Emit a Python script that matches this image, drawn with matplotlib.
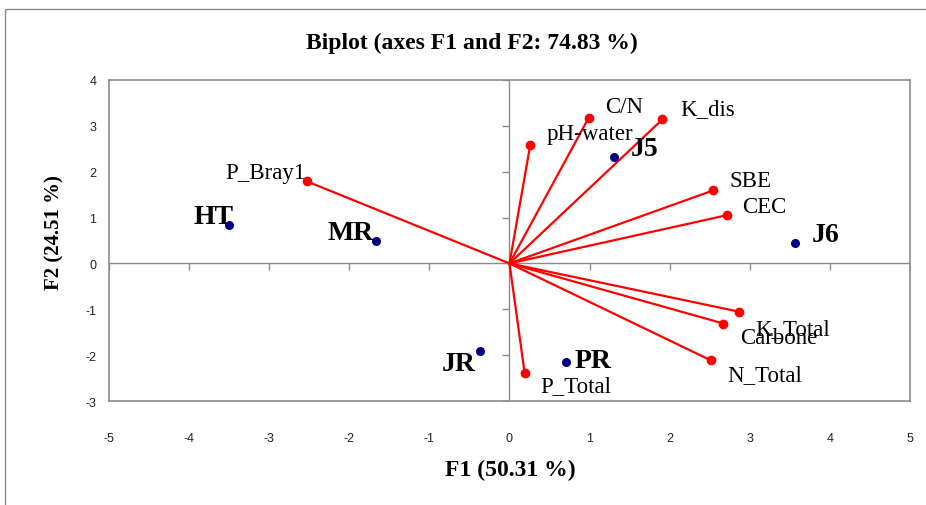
import matplotlib.pyplot as plt
from matplotlib.patches import Rectangle

# Variables (loadings) on F1 / F2
var_names = ['C/N', 'K_dis', 'pH-water', 'SBE', 'CEC', 'P_Bray1',
             'K_Total', 'Carbone', 'N_Total', 'P_Total']
var_f1 = [0.99, 1.91, 0.26, 2.54, 2.71, -2.53, 2.86, 2.67, 2.51, 0.19]
var_f2 = [3.18, 3.14, 2.59, 1.59, 1.05, 1.79, -1.05, -1.31, -2.11, -2.40]

# Observations (sites)
obs_names = ['J5', 'J6', 'HT', 'MR', 'JR', 'PR']
obs_f1 = [1.31, 3.57, -3.50, -1.67, -0.37, 0.71]
obs_f2 = [2.31, 0.44, 0.83, 0.48, -1.92, -2.14]

xticks = [-5, -4, -3, -2, -1, 0, 1, 2, 3, 4, 5]
yticks = [-3, -2, -1, 0, 1, 2, 3, 4]

# label offsets in points (dx, dy, ha)
var_off = {
    'C/N': (12, 8, 'left'),
    'K_dis': (13, 8, 'left'),
    'pH-water': (11.5, 8, 'left'),
    'SBE': (12, 7, 'left'),
    'CEC': (11.5, 6.5, 'left'),
    'P_Bray1': (-1, 6, 'right'),
    'K_Total': (12, -12, 'left'),
    'Carbone': (12, -10, 'left'),
    'N_Total': (12, -10, 'left'),
    'P_Total': (11.5, -9, 'left'),
}
obs_off = {
    'J5': (11.5, 6.5, 'left'),
    'J6': (12, 6, 'left'),
    'HT': (3.5, 6.5, 'right'),
    'MR': (-1.5, 6.5, 'right'),
    'JR': (-3, -9, 'right'),
    'PR': (6, 0.5, 'left'),
}

serif = ['Liberation Serif', 'DejaVu Serif']
sans = ['Liberation Sans Narrow', 'Liberation Sans', 'DejaVu Sans']

fig = plt.figure(figsize=(9.26, 5.06), dpi=100)
ax = fig.add_axes([0.1177, 0.2055, 0.8650, 0.6345])

# outer chart frame
fig.patches.append(Rectangle((5 / 926, -0.1), 1.0, 1.1 - 10 / 506,
                             transform=fig.transFigure, fill=False,
                             edgecolor='#8c8c8c', lw=1.0))

ax.set_xlim(-5, 5)
ax.set_ylim(-3, 4)
for s in ax.spines.values():
    s.set_color('#8c8c8c')
    s.set_linewidth(1.2)

ax.axhline(0, color='#8c8c8c', lw=1.0, zorder=1)
ax.axvline(0, color='#8c8c8c', lw=1.0, zorder=1)
# tick marks on the crossing axes
ax.plot(xticks, [0] * len(xticks), ls='none', marker=3, ms=5,
        mec='#8c8c8c', mew=1.0, zorder=1)
ax.plot([0] * len(yticks), yticks, ls='none', marker=0, ms=5,
        mec='#8c8c8c', mew=1.0, zorder=1)

ax.set_xticks(xticks)
ax.set_xticklabels([str(t) for t in xticks])
ax.set_yticks(yticks)
ax.set_yticklabels([str(t) for t in yticks])
ax.tick_params(axis='both', length=0, labelsize=9, colors='#222222')
ax.tick_params(axis='x', pad=22)
ax.tick_params(axis='y', pad=9)
for lab in ax.get_xticklabels() + ax.get_yticklabels():
    lab.set_family(sans)

# vectors
for name, x, y in zip(var_names, var_f1, var_f2):
    ax.plot([0, x], [0, y], color='red', lw=1.6, zorder=2)
    ax.plot(x, y, 'o', color='red', ms=6, zorder=3)
    dx, dy, ha = var_off[name]
    ax.annotate(name, (x, y), xytext=(dx, dy), textcoords='offset points',
                ha=ha, va='center', fontsize=16.5, family=serif,
                color='black')

# observations
ax.scatter(obs_f1, obs_f2, s=30, color='#000080', zorder=4)
for name, x, y in zip(obs_names, obs_f1, obs_f2):
    dx, dy, ha = obs_off[name]
    ax.annotate(name, (x, y), xytext=(dx, dy), textcoords='offset points',
                ha=ha, va='center', fontsize=20, fontweight='bold',
                family=serif, color='black')

fig.text(0.510, 0.915, 'Biplot (axes F1 and F2: 74.83 %)', ha='center',
         va='center', fontsize=17, fontweight='bold', family=serif)
fig.text(0.551, 0.071, 'F1 (50.31 %)', ha='center', va='center',
         fontsize=17, fontweight='bold', family=serif)
fig.text(0.059, 0.54, 'F2 (24.51 %)', ha='center', va='center',
         rotation=90, fontsize=15, fontweight='bold', family=serif)

fig.savefig('out.png', dpi=100)
